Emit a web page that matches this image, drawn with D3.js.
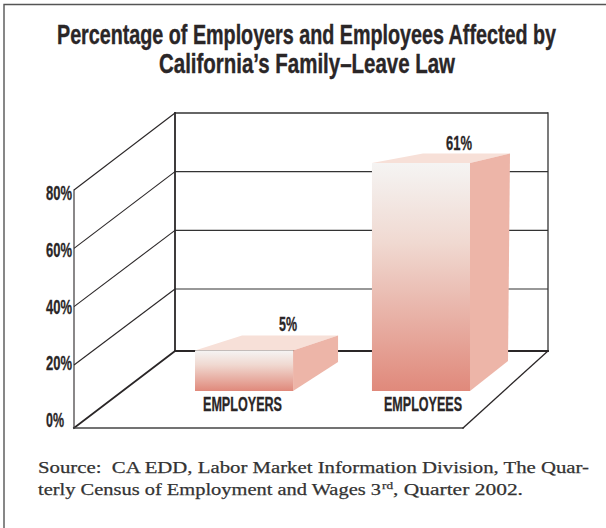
<!DOCTYPE html>
<html><head><meta charset="utf-8">
<script src="https://cdn.jsdelivr.net/npm/d3@7/dist/d3.min.js"></script>
<style>html,body{margin:0;padding:0;background:#fff;overflow:hidden}svg{display:block}</style>
</head><body><svg id="c" width="606" height="528"></svg>
<script>
const titleLines = ["Percentage of Employers and Employees Affected by", "California’s Family–Leave Law"];
const categories = ["EMPLOYERS", "EMPLOYEES"];
const values = [5, 61];
const valueLabels = ["5%", "61%"];
const ticks = [0, 20, 40, 60, 80];
const tickLabels = ["0%", "20%", "40%", "60%", "80%"];

const svg = d3.select("#c");
const ink = "#2a2627";
const sans = "'Liberation Sans',sans-serif";
const serif = "'Liberation Serif',serif";

// wall scales (the drawing's first interval is slightly taller)
const yFront = d3.scaleLinear().domain([0, 20, 80]).range([428, 365, 190]);
const yBack = d3.scaleLinear().domain([0, 20, 80]).range([351, 289, 113]);
const yTickLabel = d3.scaleLinear().domain([0, 80]).range([427, 200]);
const xLeftFront = 74, xLeftBack = 175, xRightBack = 548, xRightFront = 463;

// the drawing's bars are not to the wall scale: fitted to their drawn heights
const barHeight = d3.scaleLinear().domain([5, 61]).range([40.5, 228]);
const barBase = 391;
const x = d3.scaleBand().domain(categories).range([195, 470]).paddingInner(0.446);
const topDx = d3.scaleOrdinal().domain(categories).range([45, 40]);
const topDy = d3.scaleOrdinal().domain(categories).range([-15, -9.5]);
const botDx = d3.scaleOrdinal().domain(categories).range([45, 38]);
const botDy = d3.scaleOrdinal().domain(categories).range([-29, -30]);
const backInset = d3.scaleOrdinal().domain(categories).range([47, 51]);

// frame
svg.append("path").attr("d", "M4,528V4.5H606").attr("fill", "none").attr("stroke", "#555").attr("stroke-width", 1.4);

// condensed heavy text: squeezed to the measured width
function squeezed(sel, size, len) {
  return sel.attr("font-family", sans).attr("font-weight", 700).attr("font-size", size)
    .attr("fill", ink).attr("stroke", ink).attr("stroke-width", 0.3)
    .attr("textLength", len).attr("lengthAdjust", "spacingAndGlyphs");
}

// title: drawn smaller, then stretched vertically to the measured height
squeezed(svg.append("g").selectAll("text").data(titleLines).join("text")
  .attr("transform", (d, i) => `translate(${[57, 159][i]},${44 + i * 29}) scale(1,1.32)`), 21.5, (d, i) => [499, 296][i])
  .text(d => d);

// gridlines on the walls
const grid = svg.append("g").attr("fill", "none");
grid.selectAll(".d").data(ticks.slice(1)).join("line")
  .attr("x1", xLeftFront).attr("y1", d => yFront(d)).attr("x2", xLeftBack).attr("y2", d => yBack(d))
  .attr("stroke", ink).attr("stroke-width", 1.1);
grid.selectAll(".h").data(ticks.slice(1)).join("line")
  .attr("x1", xLeftBack).attr("y1", d => yBack(d)).attr("x2", xRightBack).attr("y2", d => yBack(d))
  .attr("stroke", "#333").attr("stroke-width", d => d === 80 ? 1.3 : 1.1);

// wall edges
const edge = (x1, y1, x2, y2, w, c) => svg.append("line").attr("x1", x1).attr("y1", y1).attr("x2", x2).attr("y2", y2).attr("stroke", c || ink).attr("stroke-width", w).attr("stroke-linecap", "square");
edge(xLeftFront, yFront(0), xLeftFront, yFront(80), 1.1);
edge(xLeftBack, yBack(0), xLeftBack, yBack(80), 1.8);
edge(xRightBack, yBack(0), xRightBack, yBack(80), 1.3, "#333");
edge(xLeftBack, yBack(0), xRightBack, yBack(0), 1.8);
edge(xLeftFront, yFront(0), xLeftBack, yBack(0), 1.8);
edge(xLeftFront, yFront(0), xRightFront, yFront(0), 1.3, "#444");
edge(xRightFront, yFront(0), xRightBack, yBack(0), 1.3);

// tick labels
squeezed(svg.append("g").selectAll("text").data(ticks).join("text")
  .attr("x", 46).attr("y", d => yTickLabel(d)), 20, d => d === 0 ? 18 : 26)
  .text((d, i) => tickLabels[i]);

// bars
const defs = svg.append("defs");
const grad = defs.append("linearGradient").attr("id", "front").attr("x1", 0).attr("y1", 0).attr("x2", 0).attr("y2", 1);
grad.append("stop").attr("offset", 0).attr("stop-color", "#f5f4f3");
grad.append("stop").attr("offset", 0.35).attr("stop-color", "#f0d9d1");
grad.append("stop").attr("offset", 1).attr("stop-color", "#e0897b");

const bars = svg.append("g").selectAll("g").data(categories).join("g");
const L = c => x(c), R = c => x(c) + x.bandwidth();
const T = (c, i) => barBase - barHeight(values[i]);
bars.append("path").attr("fill", "#f7e0d8")
  .attr("d", (c, i) => d3.line()([[L(c), T(c, i)], [L(c) + backInset(c), T(c, i) + topDy(c)], [R(c) + topDx(c), T(c, i) + topDy(c)], [R(c), T(c, i)]]) + "Z");
bars.append("path").attr("fill", "#edb5a8")
  .attr("d", (c, i) => d3.line()([[R(c), T(c, i)], [R(c) + topDx(c), T(c, i) + topDy(c)], [R(c) + botDx(c), barBase + botDy(c)], [R(c), barBase]]) + "Z");
bars.append("rect").attr("fill", "url(#front)")
  .attr("x", c => L(c)).attr("width", x.bandwidth())
  .attr("y", (c, i) => T(c, i)).attr("height", (c, i) => barHeight(values[i]));

// value labels
squeezed(bars.append("text").attr("x", (c, i) => [279, 446][i]).attr("y", (c, i) => [331, 150][i]), 20, (c, i) => [18, 26][i])
  .text((c, i) => valueLabels[i]);

// category labels
squeezed(bars.append("text").attr("x", (c, i) => [203, 384][i]).attr("y", 411), 19.5, (c, i) => [79, 78][i])
  .text(c => c);

// source note: a serif stretched to the measured widths
const src = svg.append("g").attr("font-family", serif).attr("font-size", 17.5).attr("fill", "#333").attr("stroke", "#333").attr("stroke-width", 0.25);
const seg = (t, x0, y, len, size) => src.append("text").attr("x", x0).attr("y", y).attr("textLength", len)
  .attr("lengthAdjust", "spacingAndGlyphs").attr("font-size", size || 17.5).text(t);
seg("Source:  CA EDD, Labor Market Information Division, The Quar-", 38, 473, 551).attr("xml:space", "preserve");
seg("terly Census of Employment and Wages 3", 38, 495, 343);
seg("rd", 382, 489, 11, 10.5);
seg(", Quarter 2002.", 393, 495, 130);
</script></body></html>
